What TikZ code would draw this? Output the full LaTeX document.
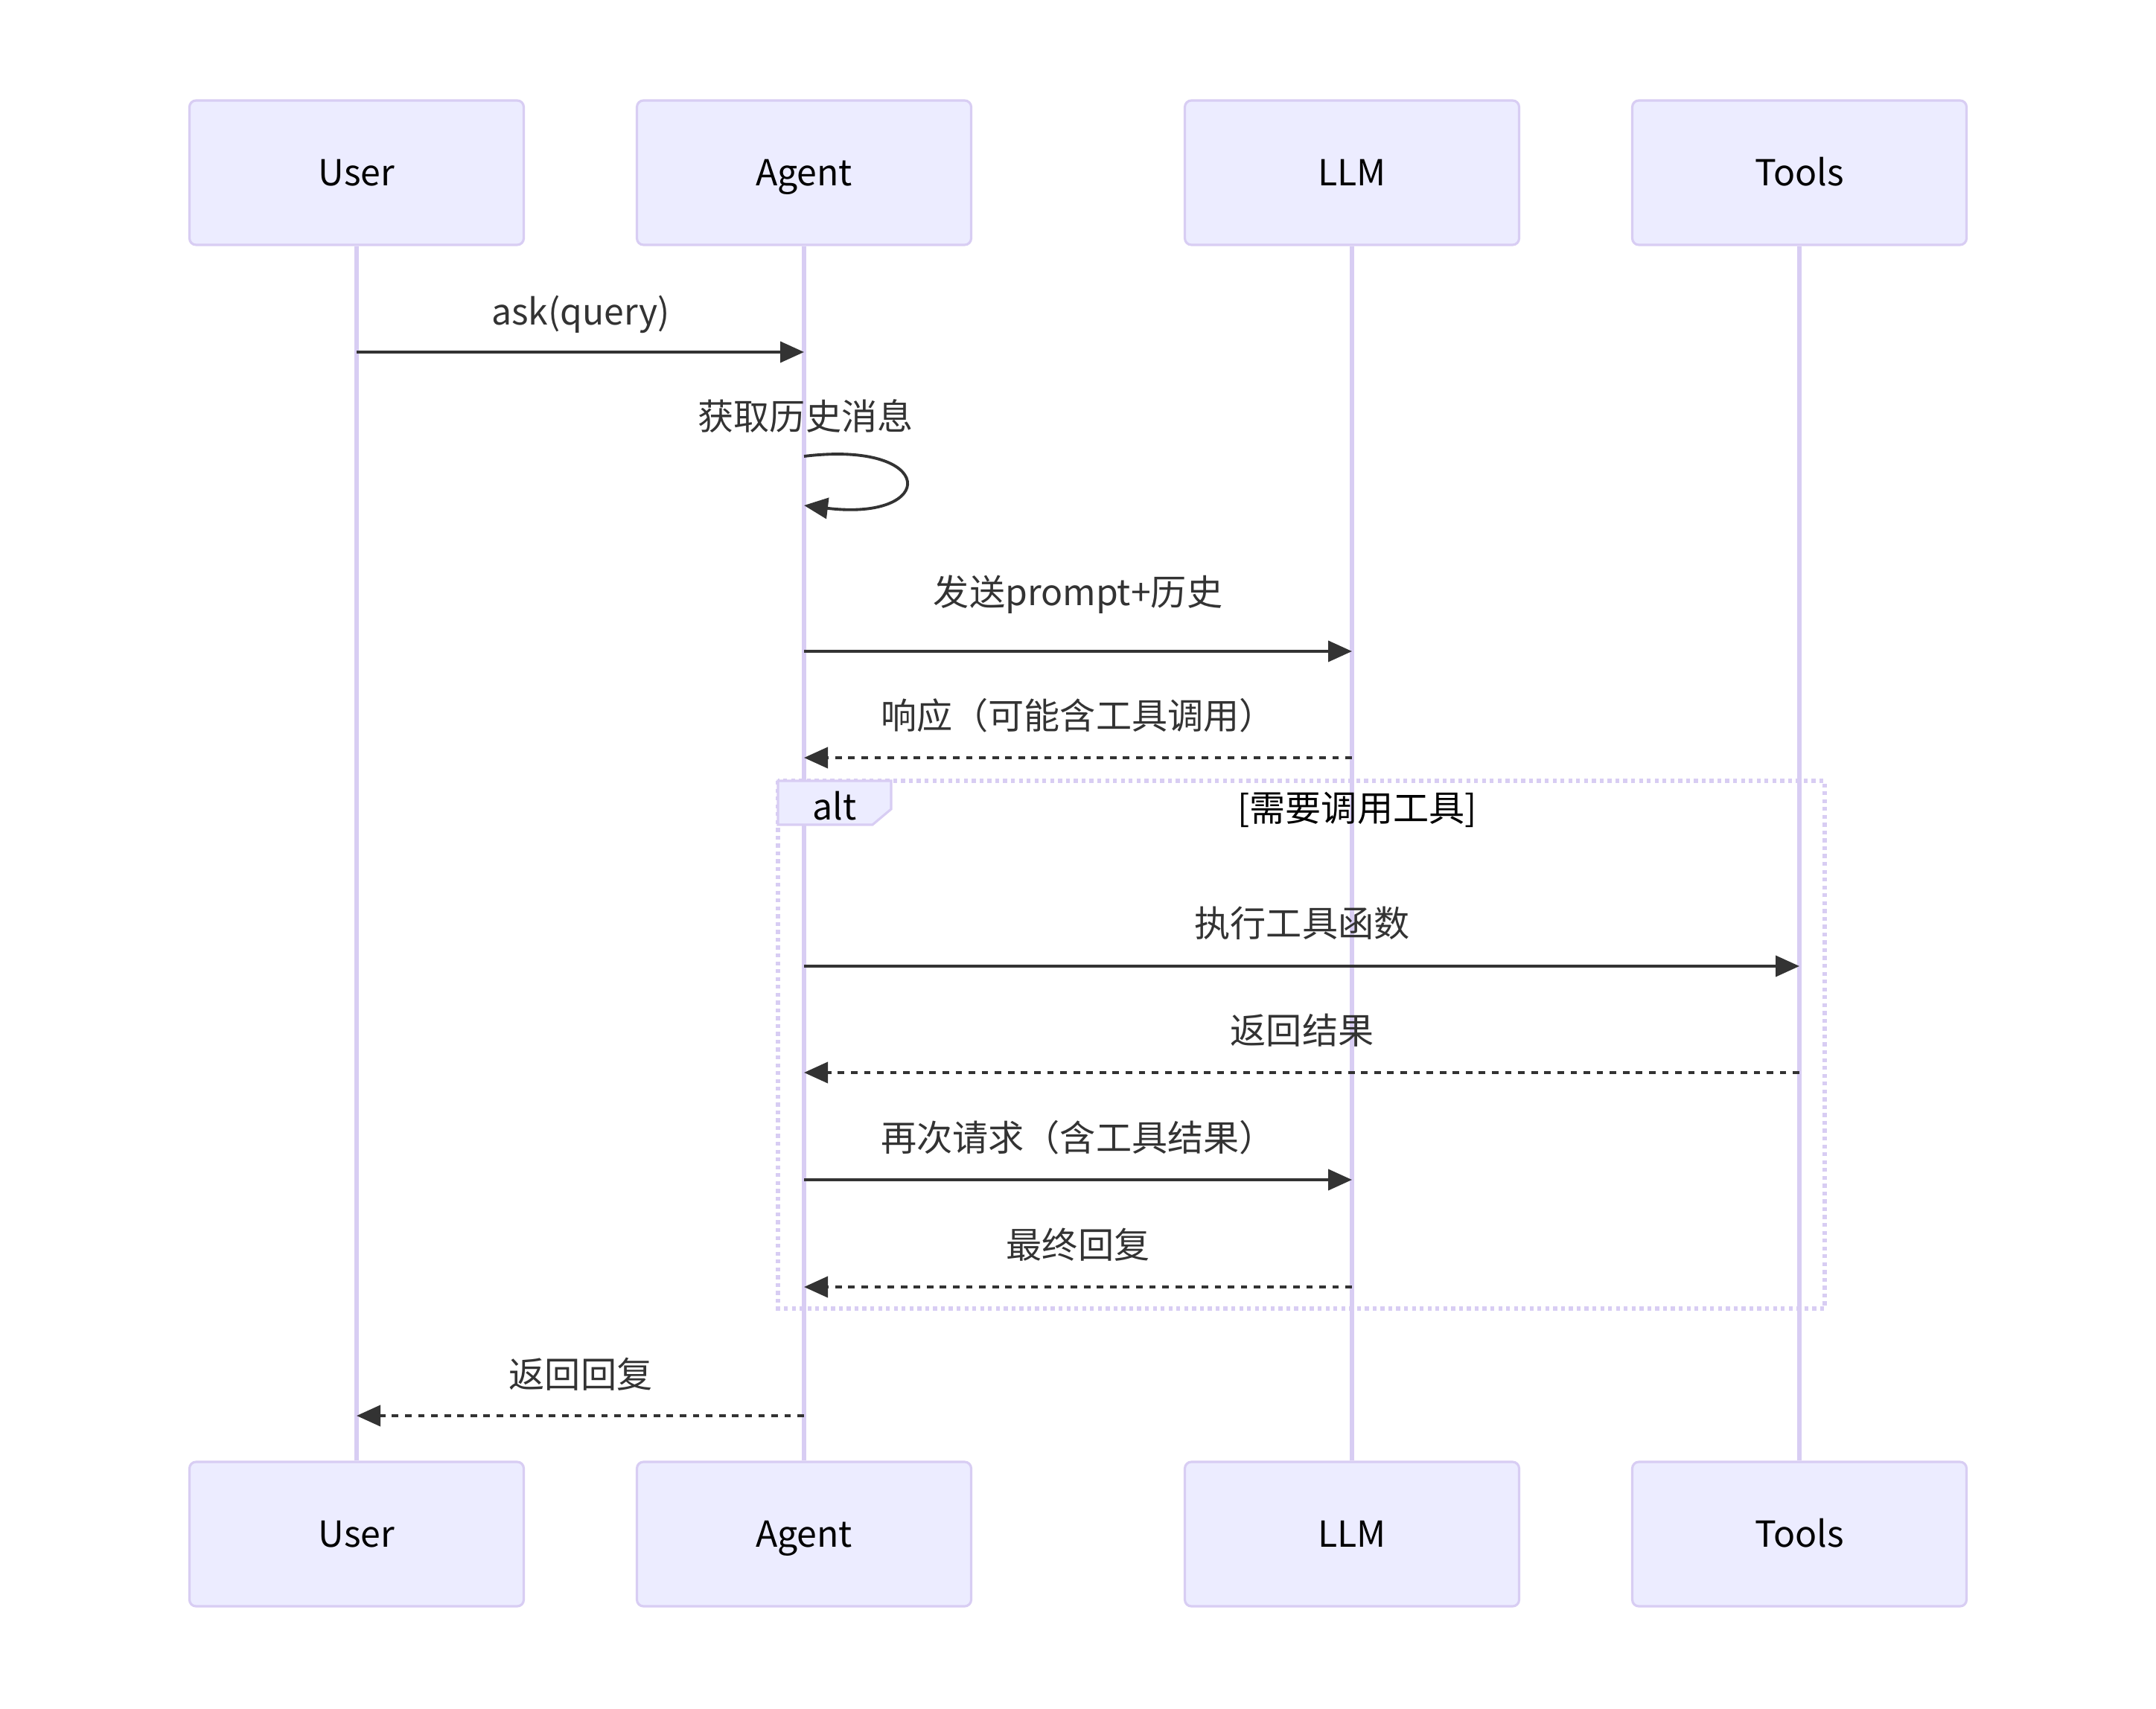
\documentclass[tikz,border=0pt]{standalone}
\usepackage{fontspec}
\setmainfont{Noto Sans CJK SC}
\usetikzlibrary{arrows.meta}

\definecolor{attorefill}{HTML}{ECECFF}
\definecolor{attorebordo}{HTML}{D8CDF3}
\definecolor{inchiostro}{HTML}{333333}

\tikzset{
    testo/.style={font=\fontsize{13.7pt}{16pt}\selectfont, inner sep=0pt,
        text height=1em, text depth=0pt},
    attore/.style={testo, draw=attorebordo, line width=0.9pt, fill=attorefill,
        rounded corners=2.5pt, minimum width=4.49cm, minimum height=1.94cm, text=black},
    vita/.style={draw=attorebordo, line width=1.6pt},
    msg/.style={draw=inchiostro, line width=1.1pt, -{Triangle[length=0.32cm,width=0.28cm]}},
    risp/.style={msg, dash pattern=on 2.5pt off 2.5pt},
    etichetta/.style={testo, text=inchiostro},
    cornice/.style={draw=attorebordo, line width=1.5pt, dash pattern=on 1.5pt off 1.5pt},
    linguetta/.style={draw=attorebordo, line width=0.9pt, fill=attorefill}
}

\begin{document}
\begin{tikzpicture}
        \useasboundingbox (0,0) rectangle (28.96,-22.96);

        %%%%%%%%%% Cornice alt %%%%%%%%%%
        \draw[cornice] (10.45,-10.49) rectangle (24.51,-17.58);

        %%%%%%%%%% Attori %%%%%%%%%%
        \foreach \nome/\x in {User/4.79, Agent/10.80, LLM/18.16, Tools/24.17} {
            \node[attore] (\nome) at (\x,-2.32) {\nome};
            \node[attore] (\nome-b) at (\x,-20.61) {\nome};
            \draw[vita] (\nome) -- (\nome-b);
        }

        %%%%%%%%%% Linguetta alt %%%%%%%%%%
        \draw[linguetta] (10.45,-10.49) -- (11.97,-10.49) -- (11.97,-10.87)
            -- (11.72,-11.08) -- (10.45,-11.08) -- cycle;
        \node[testo, text=black] (alt) at (11.21,-10.84) {alt};
        \node[testo, text=black] (cond) at (18.23,-10.86) {[需要调用工具]};

        %%%%%%%%% Quote dei messaggi %%%%%%%%%
        \foreach \i/\y in {1/4.73, 2/6.13, 3/6.79, 4/8.75, 5/10.18, 6/12.98,
                           7/14.41, 8/15.85, 9/17.29, 10/19.02}
            \coordinate (y\i) at (0,-\y);

        %%%%%%%%% Etichette %%%%%%%%%
        \node[etichetta] (l1) at (7.80,-4.19) {ask(query)};
        \node[etichetta] (l2) at (10.82,-5.60) {获取历史消息};
        \node[etichetta] (l3) at (14.48,-7.96) {发送prompt+历史};
        \node[etichetta] (l4) at (14.48,-9.62) {响应（可能含工具调用）};
        \node[etichetta] (l5) at (17.49,-12.41) {执行工具函数};
        \node[etichetta] (l6) at (17.49,-13.85) {返回结果};
        \node[etichetta] (l7) at (14.48,-15.29) {再次请求（含工具结果）};
        \node[etichetta] (l8) at (14.48,-16.73) {最终回复};
        \node[etichetta] (l9) at (7.80,-18.47) {返回回复};

        %%%%%%%%% Frecce %%%%%%%%%
        \draw[msg] (User |- y1) -- (Agent |- y1);
        \draw[msg] (Agent |- y2) .. controls +(1.80,0.22) and +(1.80,-0.22) .. (Agent |- y3);
        \draw[msg] (Agent |- y4) -- (LLM |- y4);
        \draw[risp] (LLM |- y5) -- (Agent |- y5);
        \draw[msg] (Agent |- y6) -- (Tools |- y6);
        \draw[risp] (Tools |- y7) -- (Agent |- y7);
        \draw[msg] (Agent |- y8) -- (LLM |- y8);
        \draw[risp] (LLM |- y9) -- (Agent |- y9);
        \draw[risp] (Agent |- y10) -- (User |- y10);
    \end{tikzpicture}
\end{document}
